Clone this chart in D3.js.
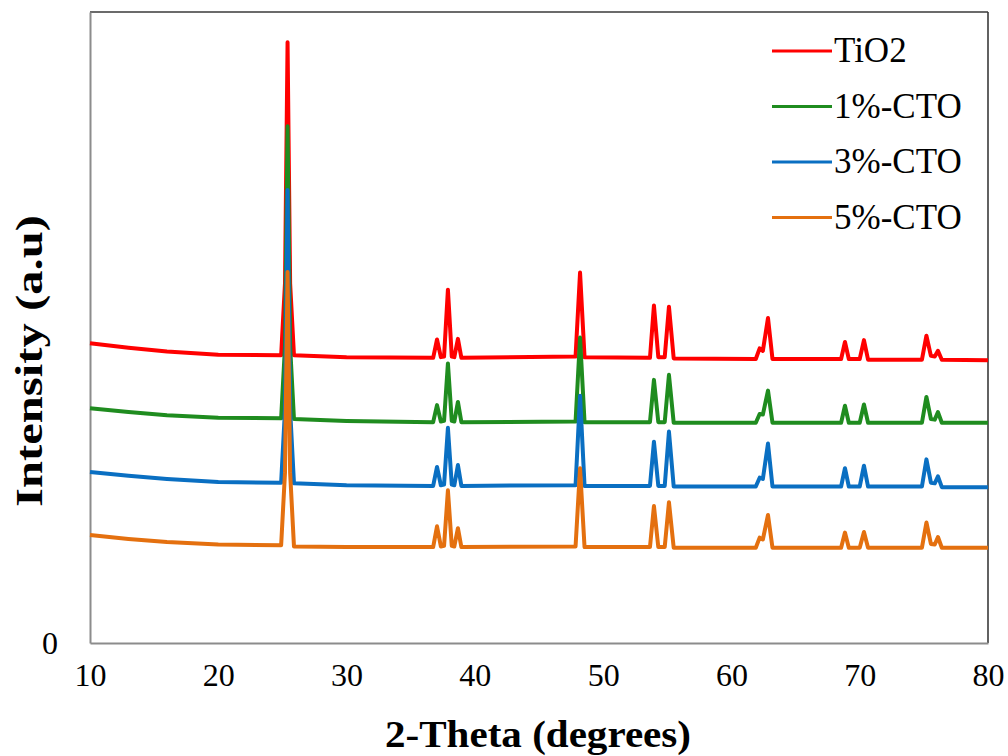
<!DOCTYPE html>
<html>
<head>
<meta charset="utf-8">
<script src="https://cdn.jsdelivr.net/npm/d3@7"></script>
<style>
  body { margin: 0; background: #fff; }
  text { font-family: "Liberation Serif", "Times New Roman", serif; fill: #000; }
</style>
</head>
<body>
<div id="chart"></div>
<script>
// 2-theta sample positions (degrees)
const twoTheta = [10, 13, 16, 20, 24.9, 25.2, 25.4, 25.6, 25.9, 30,
  36.75, 37.05, 37.35, 37.6, 37.9, 38.2, 38.4, 38.68, 38.95,
  47.85, 48.2, 48.55, 53.65, 53.96, 54.3, 54.8, 55.13, 55.5,
  61.9, 62.2, 62.45, 62.85, 63.2, 68.55, 68.85, 69.15, 70.0, 70.33, 70.65,
  74.85, 75.2, 75.55, 75.85, 76.1, 76.4, 80];

// intensities (offset traces, arbitrary units)
const tio2 = [47.5, 46.8, 46.2, 45.7, 45.6, 57, 95.2, 57, 45.6, 45.3,
  45.2, 48.1, 45.3, 45.4, 56.0, 45.4, 45.3, 48.2, 45.2,
  45.4, 58.7, 45.3, 45.2, 53.5, 45.3, 45.3, 53.3, 45.1,
  45.0, 46.7, 46.3, 51.5, 45.0, 45.0, 47.7, 45.0, 45.0, 48.0, 44.9,
  44.9, 48.7, 45.5, 45.4, 46.3, 44.9, 44.8];
const cto1 = [37.2, 36.6, 36.1, 35.7, 35.6, 47, 81.9, 47, 35.5, 35.2,
  35.0, 37.7, 35.1, 35.2, 44.3, 35.2, 35.1, 38.2, 35.0,
  35.1, 48.4, 35.0, 35.0, 41.7, 35.0, 35.0, 42.5, 34.9,
  34.9, 36.3, 36.2, 40.0, 34.9, 34.9, 37.6, 34.9, 34.9, 37.8, 34.9,
  34.9, 39.0, 35.5, 35.4, 36.6, 34.9, 34.9];
const cto3 = [27.1, 26.5, 26.0, 25.5, 25.4, 37, 71.8, 37, 25.3, 25.0,
  24.9, 27.9, 25.0, 25.1, 34.1, 25.1, 25.0, 28.2, 24.9,
  25.0, 39.2, 24.9, 24.9, 31.9, 24.9, 24.9, 33.5, 24.8,
  24.8, 26.2, 26.0, 31.6, 24.8, 24.8, 27.7, 24.8, 24.8, 28.1, 24.8,
  24.8, 29.1, 25.4, 25.3, 26.4, 24.7, 24.7];
const cto5 = [17.1, 16.5, 16.0, 15.6, 15.5, 27, 58.8, 27, 15.3, 15.2,
  15.2, 18.5, 15.3, 15.4, 24.2, 15.4, 15.3, 18.2, 15.2,
  15.3, 27.7, 15.2, 15.2, 21.7, 15.2, 15.2, 22.3, 15.1,
  15.1, 16.7, 16.4, 20.3, 15.1, 15.1, 17.5, 15.1, 15.1, 17.6, 15.1,
  15.1, 19.1, 15.7, 15.6, 16.8, 15.1, 15.1];

const seriesNames = ['TiO2', '1%-CTO', '3%-CTO', '5%-CTO'];
const seriesValues = [tio2, cto1, cto3, cto5];
const colors = ['#ff0000', '#1f8c1f', '#0a6fc2', '#e4700f'];

const xTicks = [10, 20, 30, 40, 50, 60, 70, 80];
const yTicks = [0];

const width = 1008;
const height = 756;
const margin = { top: 12, right: 20, bottom: 113, left: 90 };

const svg = d3.select('#chart')
  .append('svg')
  .attr('width', width)
  .attr('height', height);

const x = d3.scaleLinear()
  .domain([10, 80])
  .range([margin.left, width - margin.right]);

const y = d3.scaleLinear()
  .domain([0, 100])
  .range([height - margin.bottom, margin.top]);

// plot frame: top/right darker, axes lighter grey
svg.append('line')
  .attr('x1', x(10)).attr('x2', x(80))
  .attr('y1', y(100)).attr('y2', y(100))
  .attr('stroke', '#3a3a3a').attr('stroke-width', 1.6);
svg.append('line')
  .attr('x1', x(80)).attr('x2', x(80))
  .attr('y1', y(100)).attr('y2', y(0))
  .attr('stroke', '#3a3a3a').attr('stroke-width', 1.6);

// x axis
const xAxis = svg.append('g')
  .attr('transform', `translate(0, ${y(0)})`)
  .call(d3.axisBottom(x).tickValues(xTicks).tickSize(0).tickPadding(20).tickFormat(d3.format('d')));
xAxis.select('.domain').attr('stroke', '#8c8c8c').attr('stroke-width', 2);
xAxis.selectAll('text')
  .style('font-family', '"Liberation Serif", serif')
  .style('font-size', '32px')
  .attr('fill', '#000')
  .attr('dy', '0.71em');

// y axis, only the zero label
const yAxis = svg.append('g')
  .attr('transform', `translate(${x(10)}, 0)`)
  .call(d3.axisLeft(y).tickValues(yTicks).tickSize(0).tickPadding(32));
yAxis.select('.domain').attr('stroke', '#8c8c8c').attr('stroke-width', 2);
yAxis.selectAll('text')
  .style('font-family', '"Liberation Serif", serif')
  .style('font-size', '32px')
  .attr('fill', '#000');

// traces, red first so orange ends on top
const line = d3.line()
  .x((d, i) => x(twoTheta[i]))
  .y((d) => y(d));

svg.append('g')
  .selectAll('path')
  .data(seriesValues)
  .enter()
  .append('path')
  .attr('d', line)
  .attr('fill', 'none')
  .attr('stroke', (d, i) => colors[i])
  .attr('stroke-width', 4)
  .attr('stroke-linejoin', 'round');

// legend
const legend = svg.append('g')
  .attr('transform', 'translate(772, 51)');

const rows = legend.selectAll('g')
  .data(seriesNames)
  .enter()
  .append('g')
  .attr('transform', (d, i) => `translate(0, ${i * 55.5})`);

rows.append('line')
  .attr('x1', 0).attr('x2', 60)
  .attr('stroke', (d, i) => colors[i])
  .attr('stroke-width', 3);

rows.append('text')
  .attr('x', 62)
  .attr('y', 11)
  .style('font-size', '35px')
  .text((d) => d);

// axis titles
svg.append('text')
  .attr('x', 538)
  .attr('y', 747)
  .attr('text-anchor', 'middle')
  .attr('textLength', 306)
  .attr('lengthAdjust', 'spacingAndGlyphs')
  .style('font-size', '37px')
  .style('font-weight', 'bold')
  .text('2-Theta (degrees)');

svg.append('text')
  .attr('transform', 'translate(42, 361) rotate(-90)')
  .attr('text-anchor', 'middle')
  .attr('textLength', 292)
  .attr('lengthAdjust', 'spacingAndGlyphs')
  .style('font-size', '38px')
  .style('font-weight', 'bold')
  .text('Intensity (a.u)');
</script>
</body>
</html>
